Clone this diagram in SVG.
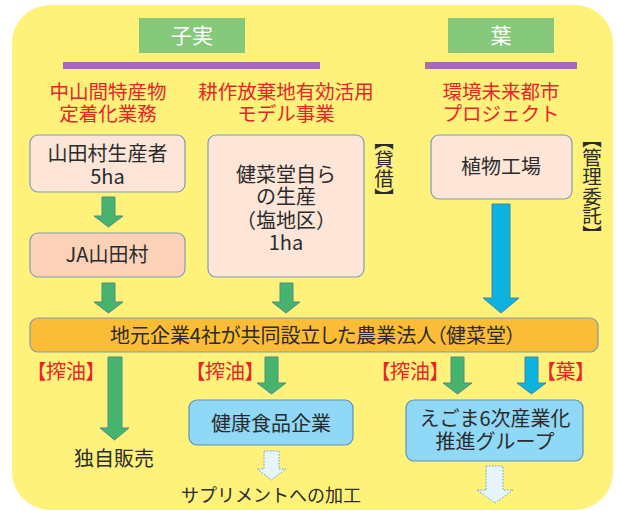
<svg xmlns="http://www.w3.org/2000/svg" width="617" height="511" viewBox="0 0 617 511">
<style>
text{font-family:"Noto Sans CJK JP","Noto Sans",sans-serif;}
.hd{fill:#ffffff;font-size:21px;text-anchor:middle;}
.red{fill:#e8242b;font-size:19.5px;text-anchor:middle;}
.lbl{fill:#e8242b;font-size:20px;text-anchor:middle;font-feature-settings:"palt";}
.dk{fill:#2b2b2b;font-size:20px;text-anchor:middle;}
.vert{fill:#2b2b2b;font-size:19.5px;writing-mode:vertical-rl;text-orientation:upright;font-feature-settings:"vpal";}
.pe{fill:#fde6d8;stroke:#7f9bb6;stroke-width:1.2;}
.pe2{fill:#fbd2b8;stroke:#7f9bb6;stroke-width:1.2;}
.bl{fill:#8fd8f6;stroke:#5f8fb8;stroke-width:1.2;}
.ga{fill:#47b46e;stroke:#4e8a8a;stroke-width:1;}
.ba{fill:#0db3df;stroke:#3f86a8;stroke-width:1;}
.da{fill:#e6f4fc;stroke:#6a9ccc;stroke-width:1;stroke-dasharray:1.5 1.5;}
</style>
<rect x="12" y="5" width="601" height="505" rx="38" ry="38" fill="#fff27a"/>
<g id="hdr-seeds">
<rect x="139" y="18" width="106" height="35" fill="#86c97b"/>
<text class="hd" x="192" y="43">子実</text>
<rect x="63" y="62" width="257" height="7" fill="#a86bae"/>
</g>
<g id="hdr-leaf">
<rect x="448" y="18" width="106" height="35" fill="#86c97b"/>
<text class="hd" x="501" y="43">葉</text>
<rect x="425" y="62" width="152" height="7" fill="#a86bae"/>
</g>
<g id="prog1">
<text class="red" x="108" y="99">中山間特産物<tspan x="108" dy="22">定着化業務</tspan></text>
</g>
<g id="prog2">
<text class="red" x="286" y="99">耕作放棄地有効活用<tspan x="286" dy="22">モデル事業</tspan></text>
</g>
<g id="prog3">
<text class="red" x="501" y="99">環境未来都市<tspan x="501" dy="22">プロジェクト</tspan></text>
</g>
<g id="producers">
<rect class="pe" x="30" y="135" width="155" height="57" rx="8"/>
<text class="dk" x="107.5" y="161">山田村生産者<tspan x="107.5" dy="23">5ha</tspan></text>
</g>
<g id="ja">
<rect class="pe2" x="30" y="233" width="155" height="44" rx="8"/>
<text class="dk" x="107" y="262">JA山田村</text>
</g>
<g id="own">
<rect class="pe" x="208" y="135" width="156" height="142" rx="8"/>
<text class="dk" x="286" y="182">健菜堂自ら<tspan x="286" dy="22">の生産</tspan><tspan x="286" dy="24">（塩地区）</tspan><tspan x="286" dy="22">1ha</tspan></text>
</g>
<g id="lease">
<text class="vert" x="384" y="140">【貸借】</text>
</g>
<g id="factory">
<rect class="pe" x="431" y="135" width="141" height="64" rx="8"/>
<text class="dk" x="501" y="174">植物工場</text>
</g>
<g id="mgmt">
<text class="vert" x="592" y="138">【管理委託】</text>
</g>
<g id="corp">
<rect x="30" y="318" width="568" height="34" rx="8" fill="#fbbd35" stroke="#7f9bb6" stroke-width="1.2"/>
<text class="dk" x="313" y="343" style="font-feature-settings:'palt'" textLength="406" lengthAdjust="spacing">地元企業4社が共同設立した農業法人（健菜堂）</text>
</g>
<g id="health">
<rect class="bl" x="189" y="400" width="164" height="45" rx="8"/>
<text class="dk" x="271" y="431">健康食品企業</text>
</g>
<g id="egoma">
<rect class="bl" x="406" y="400" width="177" height="61" rx="8"/>
<text class="dk" x="495" y="426">えごま6次産業化<tspan x="495" dy="23">推進グループ</tspan></text>
</g>
<g id="sales">
<text class="dk" x="114" y="466">独自販売</text>
</g>
<g id="supp">
<text class="dk" x="271" y="502" style="font-size:18px">サプリメントへの加工</text>
</g>
<g id="labels">
<text class="lbl" x="66" y="379">【搾油】</text>
<text class="lbl" x="225" y="379">【搾油】</text>
<text class="lbl" x="410" y="379">【搾油】</text>
<text class="lbl" x="565.5" y="379">【葉】</text>
</g>
<g id="connectors">
<polygon class="ga" points="102,197 115,197 115,216 123,216 108.5,227 94,216 102,216"/>
<polygon class="ga" points="102,283 115,283 115,302 123,302 108.5,313 94,302 102,302"/>
<polygon class="ga" points="280,283 293,283 293,302 300,302 286,313 272,302 280,302"/>
<polygon class="ba" points="492,204 510,204 510,298 519,298 501,313 483,298 492,298"/>
<polygon class="ga" points="108,357 122,357 122,428 129,428 114.5,440 100,428 108,428"/>
<polygon class="ga" points="265,357 278,357 278,383 286,383 271.5,394 257,383 265,383"/>
<polygon class="ga" points="451,357 464,357 464,383 472,383 457.5,394 443,383 451,383"/>
<polygon class="ba" points="525,357 538,357 538,383 546,383 531.5,394 517,383 525,383"/>
<polygon class="da" points="264,451 279,451 279,469 286,469 271.5,480 257,469 264,469"/>
<polygon class="da" points="486,466 503,466 503,490 513,490 495,503 477,490 486,490"/>
</g>
</svg>
